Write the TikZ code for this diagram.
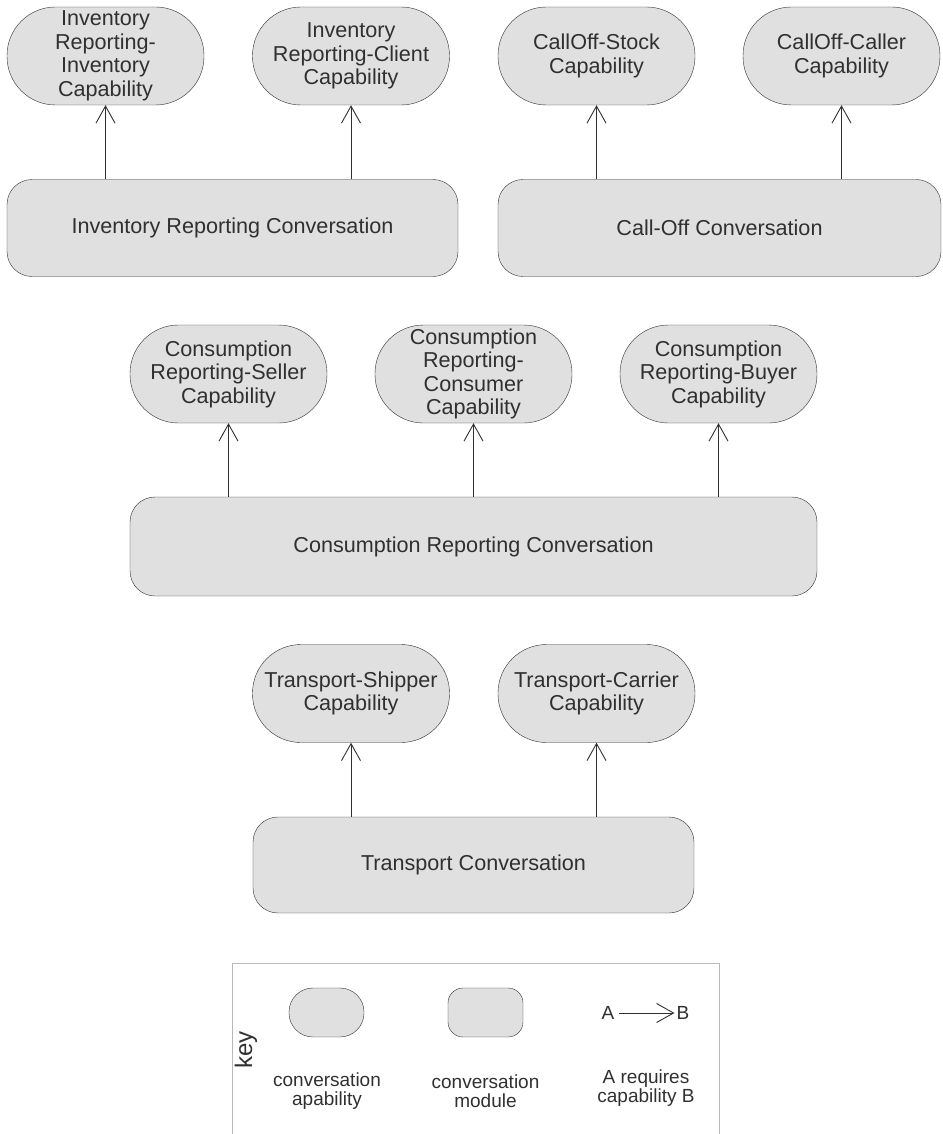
\documentclass[tikz,border=0pt]{standalone}
\usepackage{fontspec}
\setmainfont{Liberation Sans}
\usetikzlibrary{arrows.meta}

\definecolor{boxfill}{HTML}{E0E0E0}
\definecolor{boxline}{HTML}{303030}
\definecolor{keyline}{HTML}{B8B8B8}

\begin{document}
\begin{tikzpicture}[
            x=1pt, y=-1pt,
            every node/.style={text=boxline},
            capa/.style={draw=boxline, fill=boxfill, rounded corners=48.5pt,
                minimum width=197pt, minimum height=98pt, inner sep=0pt,
                align=center, font=\fontsize{21.6}{23.5}\selectfont},
            conv/.style={draw=boxline, fill=boxfill, rounded corners=25pt,
                inner sep=0pt, font=\fontsize{21.6}{24}\selectfont},
            req/.style={draw=boxline, line width=0.9pt,
                -{Straight Barb[length=17pt,width=19pt,line width=0.9pt]}},
            small/.style={align=center, font=\fontsize{19}{19.5}\selectfont},
        ]
        \useasboundingbox (0,0) rectangle (942,1134);
        % inventory reporting
        \node[capa] (irinv) at (105.5,56) {Inventory\\Reporting-\\Inventory\\Capability};
        \node[capa] (ircli) at (351,56) {Inventory\\Reporting-Client\\Capability};
        \node[conv, minimum width=451pt, minimum height=97pt] (irconv) at (232.5,228)
            {Inventory Reporting Conversation};
        % call-off
        \node[capa] (costock) at (596.5,56) {CallOff-Stock\\Capability};
        \node[capa] (cocall) at (841.5,56) {CallOff-Caller\\Capability};
        \node[conv, minimum width=443pt, minimum height=97pt] (coconv) at (719.5,228)
            {Call-Off Conversation};
        % consumption reporting
        \node[capa] (crsel) at (228.5,374) {Consumption\\Reporting-Seller\\Capability};
        \node[capa] (crcon) at (473.5,374) {Consumption\\Reporting-\\Consumer\\Capability};
        \node[capa] (crbuy) at (718.5,374) {Consumption\\Reporting-Buyer\\Capability};
        \node[conv, minimum width=687pt, minimum height=99pt] (crconv) at (473.5,546.5)
            {Consumption Reporting Conversation};
        % transport
        \node[capa] (tship) at (351,693.5) {Transport-Shipper\\Capability};
        \node[capa] (tcarr) at (596.5,693.5) {Transport-Carrier\\Capability};
        \node[conv, minimum width=441pt, minimum height=96pt] (tconv) at (473.5,865)
            {Transport Conversation};

        \foreach \c/\m in {irinv/irconv, ircli/irconv, costock/coconv, cocall/coconv,
                crsel/crconv, crcon/crconv, crbuy/crconv, tship/tconv, tcarr/tconv}
            \draw[req] (\m.north -| \c.south) -- (\c.south);

        % key
        \draw[keyline] (232,1140) |- (719,963) -- (719,1140);
        \node[rotate=90, font=\fontsize{24}{24}\selectfont] (kword) at (246,1050) {key};
        \node[capa, minimum width=75pt, minimum height=49pt, rounded corners=24pt] (kcapa)
            at (326.5,1012.5) {};
        \node[conv, minimum width=75pt, minimum height=49pt, rounded corners=15pt] (kconv)
            at (485.5,1012.5) {};
        \node[small, inner sep=4pt] (ka) at (608,1013) {A};
        \node[small, inner sep=2pt] (kb) at (683,1013) {B};
        \draw[req] (ka) -- (kb);
        \node[small] (lcapa) at (327,1091) {conversation\\apability};
        \node[small] (lconv) at (485.5,1091) {conversation\\module};
        \node[small] (lreq) at (646,1088) {A requires\\capability B};
    \end{tikzpicture}
\end{document}
